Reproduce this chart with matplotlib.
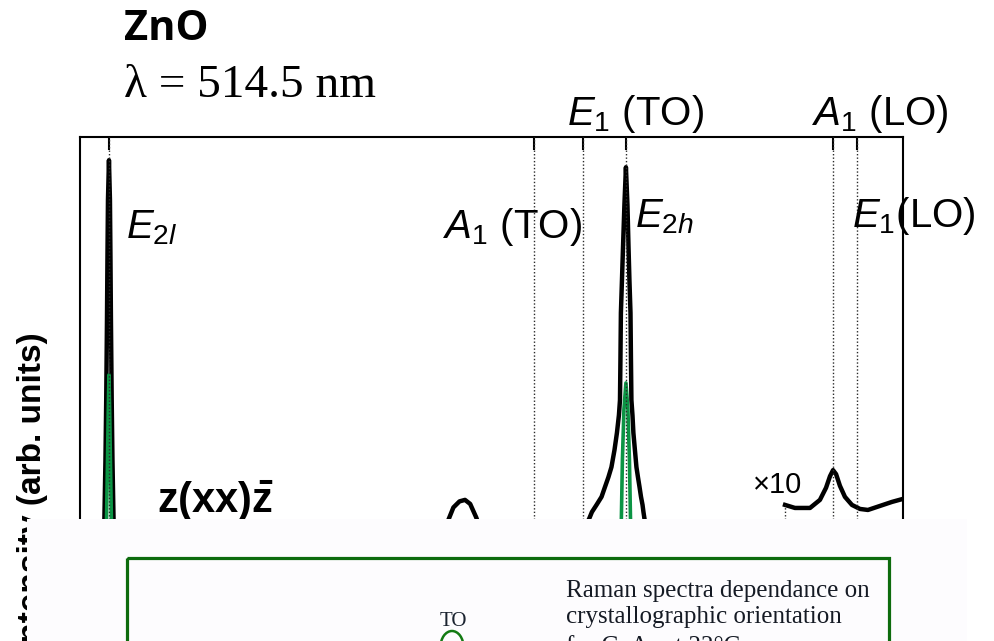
import matplotlib
matplotlib.use("Agg")
import matplotlib.pyplot as plt
from matplotlib.patches import Rectangle, Ellipse

# figure size in pixels (dpi 100)
W, H = 994, 641

# z(xx)z spectrum, black (Raman shift cm-1, intensity arb.)
black_shift = [80, 93, 95, 96.0, 96.7, 97.2, 97.7, 98.0, 98.35, 99.0, 99.65, 100.0, 100.3,
               100.8, 101.3, 102.0, 103, 105, 110, 200, 300, 315, 321, 325, 329, 332.6, 336,
               340, 344, 350, 370, 400, 408,
               414.0, 415.9, 418.9, 422.2, 424.5, 426.7, 428.7, 430.7, 432.3, 433.6, 434.3,
               434.6, 434.9, 435.6, 436.3, 437.2, 438.2,
               439.2, 439.9, 440.5, 441.2, 441.5, 441.8, 442.5, 443.1, 444.1, 445.1, 446.1,
               447.1, 448.1, 449.1, 449.7, 450.4, 455, 470, 520, 620]
black_int = [4, 8, 16, 24.2, 35.9, 47.8, 63.7, 75.6, 87.5, 95.4, 87.5, 75.6, 63.7,
             47.8, 35.9, 24.2, 16, 8, 6, 5, 8, 16, 23.5, 26.5, 27.7, 28.0, 27.2,
             24.5, 21, 16, 14, 17, 21,
             24.2, 25.6, 27.0, 28.6, 30.6, 32.5, 34.5, 37.9, 41.3, 44.8, 47.8,
             55.8, 65.1, 71.6, 78.2, 86.5, 94.0,
             86.5, 78.2, 71.6, 65.1, 55.8, 47.8, 44.8, 41.3, 37.9, 34.5, 32.5,
             30.6, 28.6, 27.0, 25.6, 24.2, 19, 14, 10, 8]

# x10 magnified part around the LO modes
x10_shift = [542.6, 549.1, 559.0, 565.5, 569.5, 572.1, 574.1, 576.1, 578.6, 581.9,
             586.5, 591.8, 597.0, 604.9, 612.8, 620.0]
x10_int = [27.0, 26.4, 26.4, 28.0, 30.4, 32.7, 33.9, 33.1, 30.8, 28.6,
           27.0, 26.2, 26.0, 26.8, 27.6, 28.2]

# second spectrum, green
green_shift = [80, 94, 96.5, 97.4, 98.0, 98.5, 99.0, 99.5, 100.0, 100.6, 101.5, 104,
               200, 420, 432, 435.2, 435.9, 436.9, 438.2, 439.5, 440.5, 441.2, 444, 460, 620]
green_int = [3, 5, 15, 24.2, 35, 45, 52.8, 45, 35, 24.2, 15, 5,
             3, 4, 10, 24.2, 36, 46, 51.2, 46, 36, 24.2, 10, 4, 3]

# phonon mode positions (cm-1): E2l, A1(TO), E1(TO), E2h, A1(LO), E1(LO)
mode_shifts = [99, 378, 410, 438, 574, 590]


def fig_xy(px, py):
    """Pixel position (from top left) to figure fraction."""
    return px / W, 1 - py / H


def main():
    plt.rcParams['font.family'] = ['Liberation Sans', 'DejaVu Sans']
    plt.rcParams['mathtext.fontset'] = 'custom'
    plt.rcParams['mathtext.rm'] = 'Liberation Sans'
    plt.rcParams['mathtext.it'] = 'Liberation Sans:italic'
    plt.rcParams['mathtext.bf'] = 'Liberation Sans:bold'

    fig = plt.figure(figsize=(W / 100, H / 100), dpi=100)
    fig.patch.set_facecolor('white')

    ax = fig.add_axes([80 / W, 0, 823 / W, 1 - 137 / H])
    ax.set_xlim(80, 620)
    ax.set_ylim(0, 100)

    ax.plot(black_shift, black_int, color='black', lw=3.2, solid_joinstyle='round', zorder=3)
    ax.plot(green_shift, green_int, color='#0b9444', lw=2.6, solid_joinstyle='round', zorder=4)
    ax.plot(x10_shift, x10_int, color='black', lw=3.2, solid_joinstyle='round', zorder=3)

    for s in mode_shifts:
        ax.axvline(s, color='#2a2a2a', lw=1, ls=(0, (1, 1.5)), zorder=5)
    ax.vlines(x10_shift[0], 0, x10_int[0], color='#2a2a2a', lw=1, ls=(0, (1, 1.5)), zorder=5)

    ax.set_xticks(mode_shifts)
    ax.set_yticks([])
    ax.tick_params(axis='x', top=True, bottom=False, direction='in', length=9, width=1.5,
                   labeltop=False, labelbottom=False)
    for sp in ax.spines.values():
        sp.set_linewidth(1.5)

    # header text
    fig.text(*fig_xy(124, 40), 'ZnO', fontsize=30, fontweight='bold', family='Open Sans')
    fig.text(*fig_xy(124, 97), 'λ = 514.5 nm', fontsize=34, family='Liberation Serif')

    # mode labels
    lab = dict(fontsize=29, va='baseline')
    fig.text(*fig_xy(567, 125), r'$E_1$ (TO)', **lab)
    fig.text(*fig_xy(812, 125), r'$A_1$ (LO)', **lab)
    fig.text(*fig_xy(126, 238), r'$E_{2l}$', **lab)
    fig.text(*fig_xy(443, 238), r'$A_1$ (TO)', **lab)
    fig.text(*fig_xy(635, 227), r'$E_{2h}$', **lab)
    fig.text(*fig_xy(852, 227), r'$E_1$(LO)', **lab)
    fig.text(*fig_xy(753, 493), '×10', fontsize=21, va='baseline')
    fig.text(*fig_xy(157, 513), r'$\mathbf{z(xx)\bar{z}}$', fontsize=30, va='baseline')

    fig.text(*fig_xy(33, 492), 'Intensity (arb. units)', fontsize=24, fontweight='bold',
             rotation=90, ha='center', va='center')

    # pasted panel covering the lower part
    ov = fig.add_axes([27 / W, 0, 940 / W, 122 / H], zorder=5)
    ov.set_xlim(27, 967)
    ov.set_ylim(641, 519)
    ov.set_facecolor('#fdfcfe')
    ov.set_xticks([])
    ov.set_yticks([])
    for sp in ov.spines.values():
        sp.set_visible(False)

    ov.add_patch(Rectangle((127, 558), 762, 150, fill=False, edgecolor='#0d6b0d', lw=2.3))
    ov.add_patch(Ellipse((452, 647), 23, 32, fill=False, edgecolor='#137a13', lw=1.8))
    ov.text(440, 626, 'TO', fontsize=15, family='Liberation Serif', color='#1b2330')

    serif = dict(fontsize=18, family='Liberation Serif', color='#151a24', va='baseline')
    ov.text(566, 597, 'Raman spectra dependance on', **serif)
    ov.text(566, 623, 'crystallographic orientation', **serif)
    ov.text(566, 653, 'for GaAs at 22°C', **serif)

    fig.savefig('out.png', dpi=100)


if __name__ == "__main__":
    main()
